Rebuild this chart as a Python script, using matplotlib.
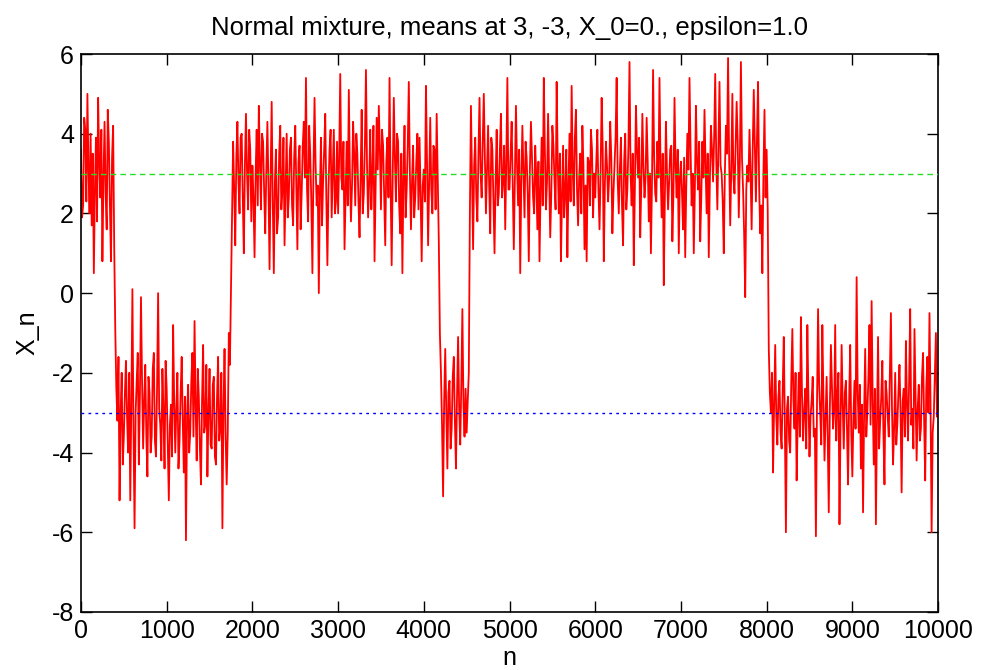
import numpy as np
import matplotlib
matplotlib.use("Agg")
import matplotlib.pyplot as plt

plt.rcParams['font.family'] = ['Liberation Sans', 'DejaVu Sans']
plt.rcParams['axes.unicode_minus'] = False

# chain values, one list per 1000 steps (every 12.5 steps)
x_0k = [3.6, 1.9, 2.2, 4.4, 4.1, 2.3, 5.0, 3.1, 2.0, 4.0, 1.7, 3.5, 0.5, 2.6, 3.9, 1.8,
        4.9, 3.3, 2.4, 4.1, 0.8, 2.9, 4.3, 2.5, 1.6, 4.6, 3.8, 2.2, 0.8, 3.4, 4.2, 1.2,
        -0.9, -2.4, -3.2, -1.6, -5.2, -3.0, -2.0, -4.3, -3.6, -2.5, -1.7, -3.1, -4.0, -2.0,
        -5.2, -2.8, 0.1, -3.4, -5.9, -3.0, -2.2, -1.5, -4.3, -2.6, -0.1, -2.2, -3.9, -2.7,
        -1.8, -3.6, -4.6, -2.1, -2.5, -4.0, -3.6, -1.9, -1.5, -3.7, -4.1, -2.4, 0.0, -2.9,
        -3.3, -4.2, -1.9, -3.0, -4.4, -1.7]
x_1k = [-2.4, -3.8, -5.2, -3.3, -2.8, -4.1, -0.8, -2.7, -4.0, -2.9, -2.0, -4.4, -3.7, -2.5,
        -1.6, -3.2, -4.5, -2.6, -6.2, -3.1, -2.3, -4.0, -3.5, -2.2, -1.5, -3.6, -0.7, -2.8,
        -4.2, -1.9, -2.6, -3.9, -4.8, -2.7, -1.3, -3.5, -3.3, -1.8, -4.6, -3.0, -1.9, -3.8,
        -3.9, -2.3, -2.1, -4.1, -4.3, -2.6, -1.6, -3.7, -3.4, -2.0, -5.9, -2.9, -1.4, -3.6,
        -4.8, -3.5, -1.0, -1.8, 0.1, 2.0, 3.8, 2.6, 1.2, 3.4, 4.3, 2.8, 2.0, 3.9,
        4.0, 2.4, 1.0, 3.2, 4.5, 3.0, 2.1, 4.1, 3.6, 1.8]
x_2k = [3.2, 2.4, 0.9, 3.0, 4.1, 2.2, 4.7, 3.3, 2.1, 4.0, 3.8, 2.5, 1.5, 3.1, 4.3, 2.7,
        0.6, 2.9, 4.8, 2.3, 0.5, 2.8, 3.6, 1.5, 1.9, 3.5, 4.2, 2.1, 2.6, 3.9, 1.2, 2.6,
        4.0, 1.9, 2.4, 3.6, 3.9, 2.2, 1.7, 3.4, 4.2, 2.6, 1.1, 3.3, 3.7, 1.6, 2.5, 3.7,
        4.3, 2.9, 5.4, 2.6, 1.8, 4.2, 3.5, 2.3, 0.5, 3.1, 4.9, 3.2, 2.2, 2.7, 0.0, 2.5,
        3.9, 1.7, 2.8, 3.6, 4.5, 2.4, 0.7, 2.6, 3.6, 4.1, 1.9, 3.0, 4.1, 2.0, 2.3, 3.8]
x_3k = [2.0, 3.4, 5.5, 2.9, 2.6, 3.8, 1.1, 2.4, 3.8, 2.2, 5.1, 3.0, 1.8, 2.7, 4.3, 3.5,
        2.2, 4.0, 3.5, 2.3, 1.4, 2.9, 4.6, 2.0, 2.5, 3.7, 5.6, 3.2, 1.9, 2.8, 4.1, 2.1,
        3.0, 4.2, 0.8, 2.6, 4.4, 3.1, 4.7, 3.6, 2.1, 4.1, 3.7, 2.5, 1.2, 3.3, 3.9, 2.4,
        5.4, 2.7, 0.7, 3.0, 4.9, 3.4, 2.3, 4.0, 3.8, 2.2, 1.5, 3.5, 0.5, 2.9, 4.2, 1.9,
        2.6, 3.7, 5.3, 3.0, 1.6, 2.8, 3.7, 1.9, 2.4, 3.3, 4.0, 2.1, 3.9, 2.5, 0.8, 2.7]
x_4k = [3.1, 2.3, 5.2, 3.3, 1.2, 2.8, 4.4, 2.6, 2.0, 3.7, 3.6, 2.1, 4.5, 2.9, 1.3, -1.0,
        -2.0, -3.3, -5.1, -2.7, -1.4, -3.0, -4.4, -2.5, -2.2, -3.9, -3.4, -2.1, -1.6, -3.2,
        -4.4, -2.6, -1.1, -2.9, -3.8, -2.3, -0.4, -2.8, -3.6, -2.4, -3.5, -2.7, -2.0, 2.0,
        4.7, 2.9, 1.1, 3.2, 3.9, 2.4, 1.8, 3.5, 4.9, 3.0, 2.4, 3.8, 5.0, 3.4, 2.0, 3.1,
        4.2, 2.7, 1.5, 3.9, 3.6, 2.3, 1.0, 2.8, 4.1, 2.2, 2.5, 3.6, 4.5, 2.4, 2.8, 3.7,
        1.6, 3.3, 5.4, 2.6]
x_5k = [2.6, 3.5, 4.3, 2.7, 1.1, 2.9, 4.7, 3.2, 2.2, 3.6, 0.5, 2.8, 4.2, 3.0, 1.9, 3.8,
        3.4, 2.5, 0.8, 3.1, 4.3, 3.4, 2.4, 2.0, 3.7, 2.9, 1.6, 3.3, 0.8, 2.6, 3.9, 2.2,
        5.4, 3.6, 2.1, 2.8, 4.5, 3.0, 1.4, 2.5, 4.2, 3.7, 2.8, 2.1, 5.3, 3.3, 2.0, 3.5,
        0.8, 2.4, 3.7, 1.9, 2.5, 3.6, 0.9, 2.7, 4.0, 2.3, 5.2, 3.1, 2.2, 3.9, 4.6, 2.6,
        1.7, 2.9, 3.5, 2.0, 4.2, 3.2, 1.1, 2.7, 0.8, 3.4, 3.3, 2.2, 4.1, 3.6, 1.9, 3.0]
x_6k = [2.4, 3.3, 4.1, 2.6, 1.6, 3.0, 4.9, 3.6, 0.8, 2.7, 3.8, 3.2, 2.3, 2.9, 4.3, 3.4,
        1.5, 2.5, 3.2, 3.9, 5.4, 2.8, 2.0, 3.1, 3.9, 2.2, 1.2, 3.3, 4.0, 2.1, 2.6, 3.7,
        5.8, 3.0, 2.2, 3.5, 0.7, 2.6, 4.7, 3.6, 2.9, 3.9, 1.4, 2.7, 4.5, 3.2, 2.4, 2.9,
        4.4, 3.3, 1.8, 3.0, 1.0, 2.8, 5.6, 3.4, 2.5, 2.3, 3.8, 2.9, 5.4, 3.1, 1.9, 3.5,
        0.2, 2.4, 4.3, 3.0, 2.1, 2.8, 3.6, 3.7, 1.3, 2.5, 4.9, 3.2, 2.4, 3.6, 1.0, 2.9]
x_7k = [3.3, 2.5, 1.6, 3.4, 0.9, 2.7, 4.0, 3.1, 5.4, 3.6, 2.2, 3.0, 1.0, 2.6, 4.7, 3.3,
        2.6, 3.8, 1.3, 2.4, 3.8, 2.9, 4.6, 3.2, 2.0, 3.5, 0.9, 2.8, 4.2, 3.6, 2.8, 3.9,
        5.5, 3.3, 2.1, 3.7, 5.3, 3.2, 3.0, 2.3, 1.0, 3.0, 4.2, 3.5, 5.9, 3.4, 1.7, 3.1,
        5.0, 2.9, 2.5, 3.6, 4.8, 3.8, 1.9, 3.3, 5.8, 3.4, 2.6, 1.5, -0.1, 2.6, 3.2, 2.8,
        4.1, 3.0, 1.6, 3.6, 5.1, 3.7, 2.3, 3.9, 5.3, 2.7, 1.5, 2.2, 0.5, 3.0, 4.6, 2.4]
x_8k = [3.6, 2.1, -1.4, -2.5, -3.0, -2.0, -4.5, -2.8, -1.3, -3.1, -3.8, -2.6, -2.2, -3.5,
        -3.9, -2.4, -1.1, -3.3, -6.0, -2.9, -2.6, -3.7, -4.0, -2.2, -0.9, -2.7, -3.4, -2.0,
        -4.7, -3.2, -2.0, -3.6, -0.6, -2.5, -3.7, -3.0, -2.4, -3.9, -0.8, -2.6, -4.1, -3.1,
        -2.7, -2.1, -3.6, -3.4, -6.1, -2.8, -0.4, -2.3, -3.0, -3.8, -0.8, -2.6, -4.2, -3.2,
        -2.1, -3.6, -5.5, -2.9, -1.3, -2.4, -3.4, -3.0, -0.8, -3.7, -2.6, -2.0, -5.8, -3.3,
        -1.3, -2.8, -3.9, -2.5, -2.2, -3.4, -4.8, -2.7, -1.3, -3.5]
x_9k = [-4.6, -3.1, -2.2, -3.4, 0.4, -2.5, -3.5, -2.3, -4.4, -2.8, -5.5, -3.0, -1.4, -3.6,
        -3.0, -2.1, -0.8, -3.3, -0.2, -2.7, -4.3, -2.4, -5.8, -3.2, -1.1, -3.9, -3.2, -2.6,
        -1.7, -3.5, -4.8, -2.2, -2.5, -3.1, -3.6, -2.0, -0.5, -2.9, -4.3, -3.4, -2.0, -3.8,
        -3.3, -2.5, -1.8, -3.0, -5.0, -2.7, -2.4, -3.6, -1.2, -2.8, -3.7, -2.2, -0.4, -3.3,
        -2.9, -3.9, -0.9, -2.6, -4.2, -2.9, -2.3, -3.7, -3.4, -2.1, -1.5, -3.2, -4.7, -2.4,
        -1.6, -3.0, -0.5, -2.8, -6.0, -3.5, -3.1, -2.0, -1.0, -3.1, -2.6]

means = [3, -3]
xticks = list(range(0, 10001, 1000))
yticks = list(range(-8, 7, 2))

x_vals = np.array(x_0k + x_1k + x_2k + x_3k + x_4k + x_5k + x_6k + x_7k + x_8k + x_9k)
n = np.linspace(0, 10000, len(x_vals))

fig = plt.figure(figsize=(9.84, 6.70), dpi=100)
ax = fig.add_axes([0.0823, 0.0866, 0.871, 0.8328])

ax.plot(n, x_vals, color='#ff0000', lw=1.3, zorder=2)
ax.axhline(means[0], color='#22dd22', lw=1.0, dashes=(4, 3), zorder=3)
ax.axhline(means[1], color='#0000ff', lw=1.0, dashes=(2, 3), zorder=3)

ax.set_xlim(0, 10000)
ax.set_ylim(-8, 6)
ax.set_xticks(xticks)
ax.set_yticks(yticks)
ax.tick_params(direction='in', length=8, width=1, top=True, right=True,
               labelsize=18, pad=5)
for s in ax.spines.values():
    s.set_linewidth(1.2)

ax.set_title('Normal mixture, means at 3, -3, X_0=0., epsilon=1.0', fontsize=18.5, pad=14)
ax.set_xlabel('n', fontsize=18, labelpad=2)
ax.set_ylabel('X_n', fontsize=18, labelpad=9)

fig.savefig('out.png', dpi=100)
